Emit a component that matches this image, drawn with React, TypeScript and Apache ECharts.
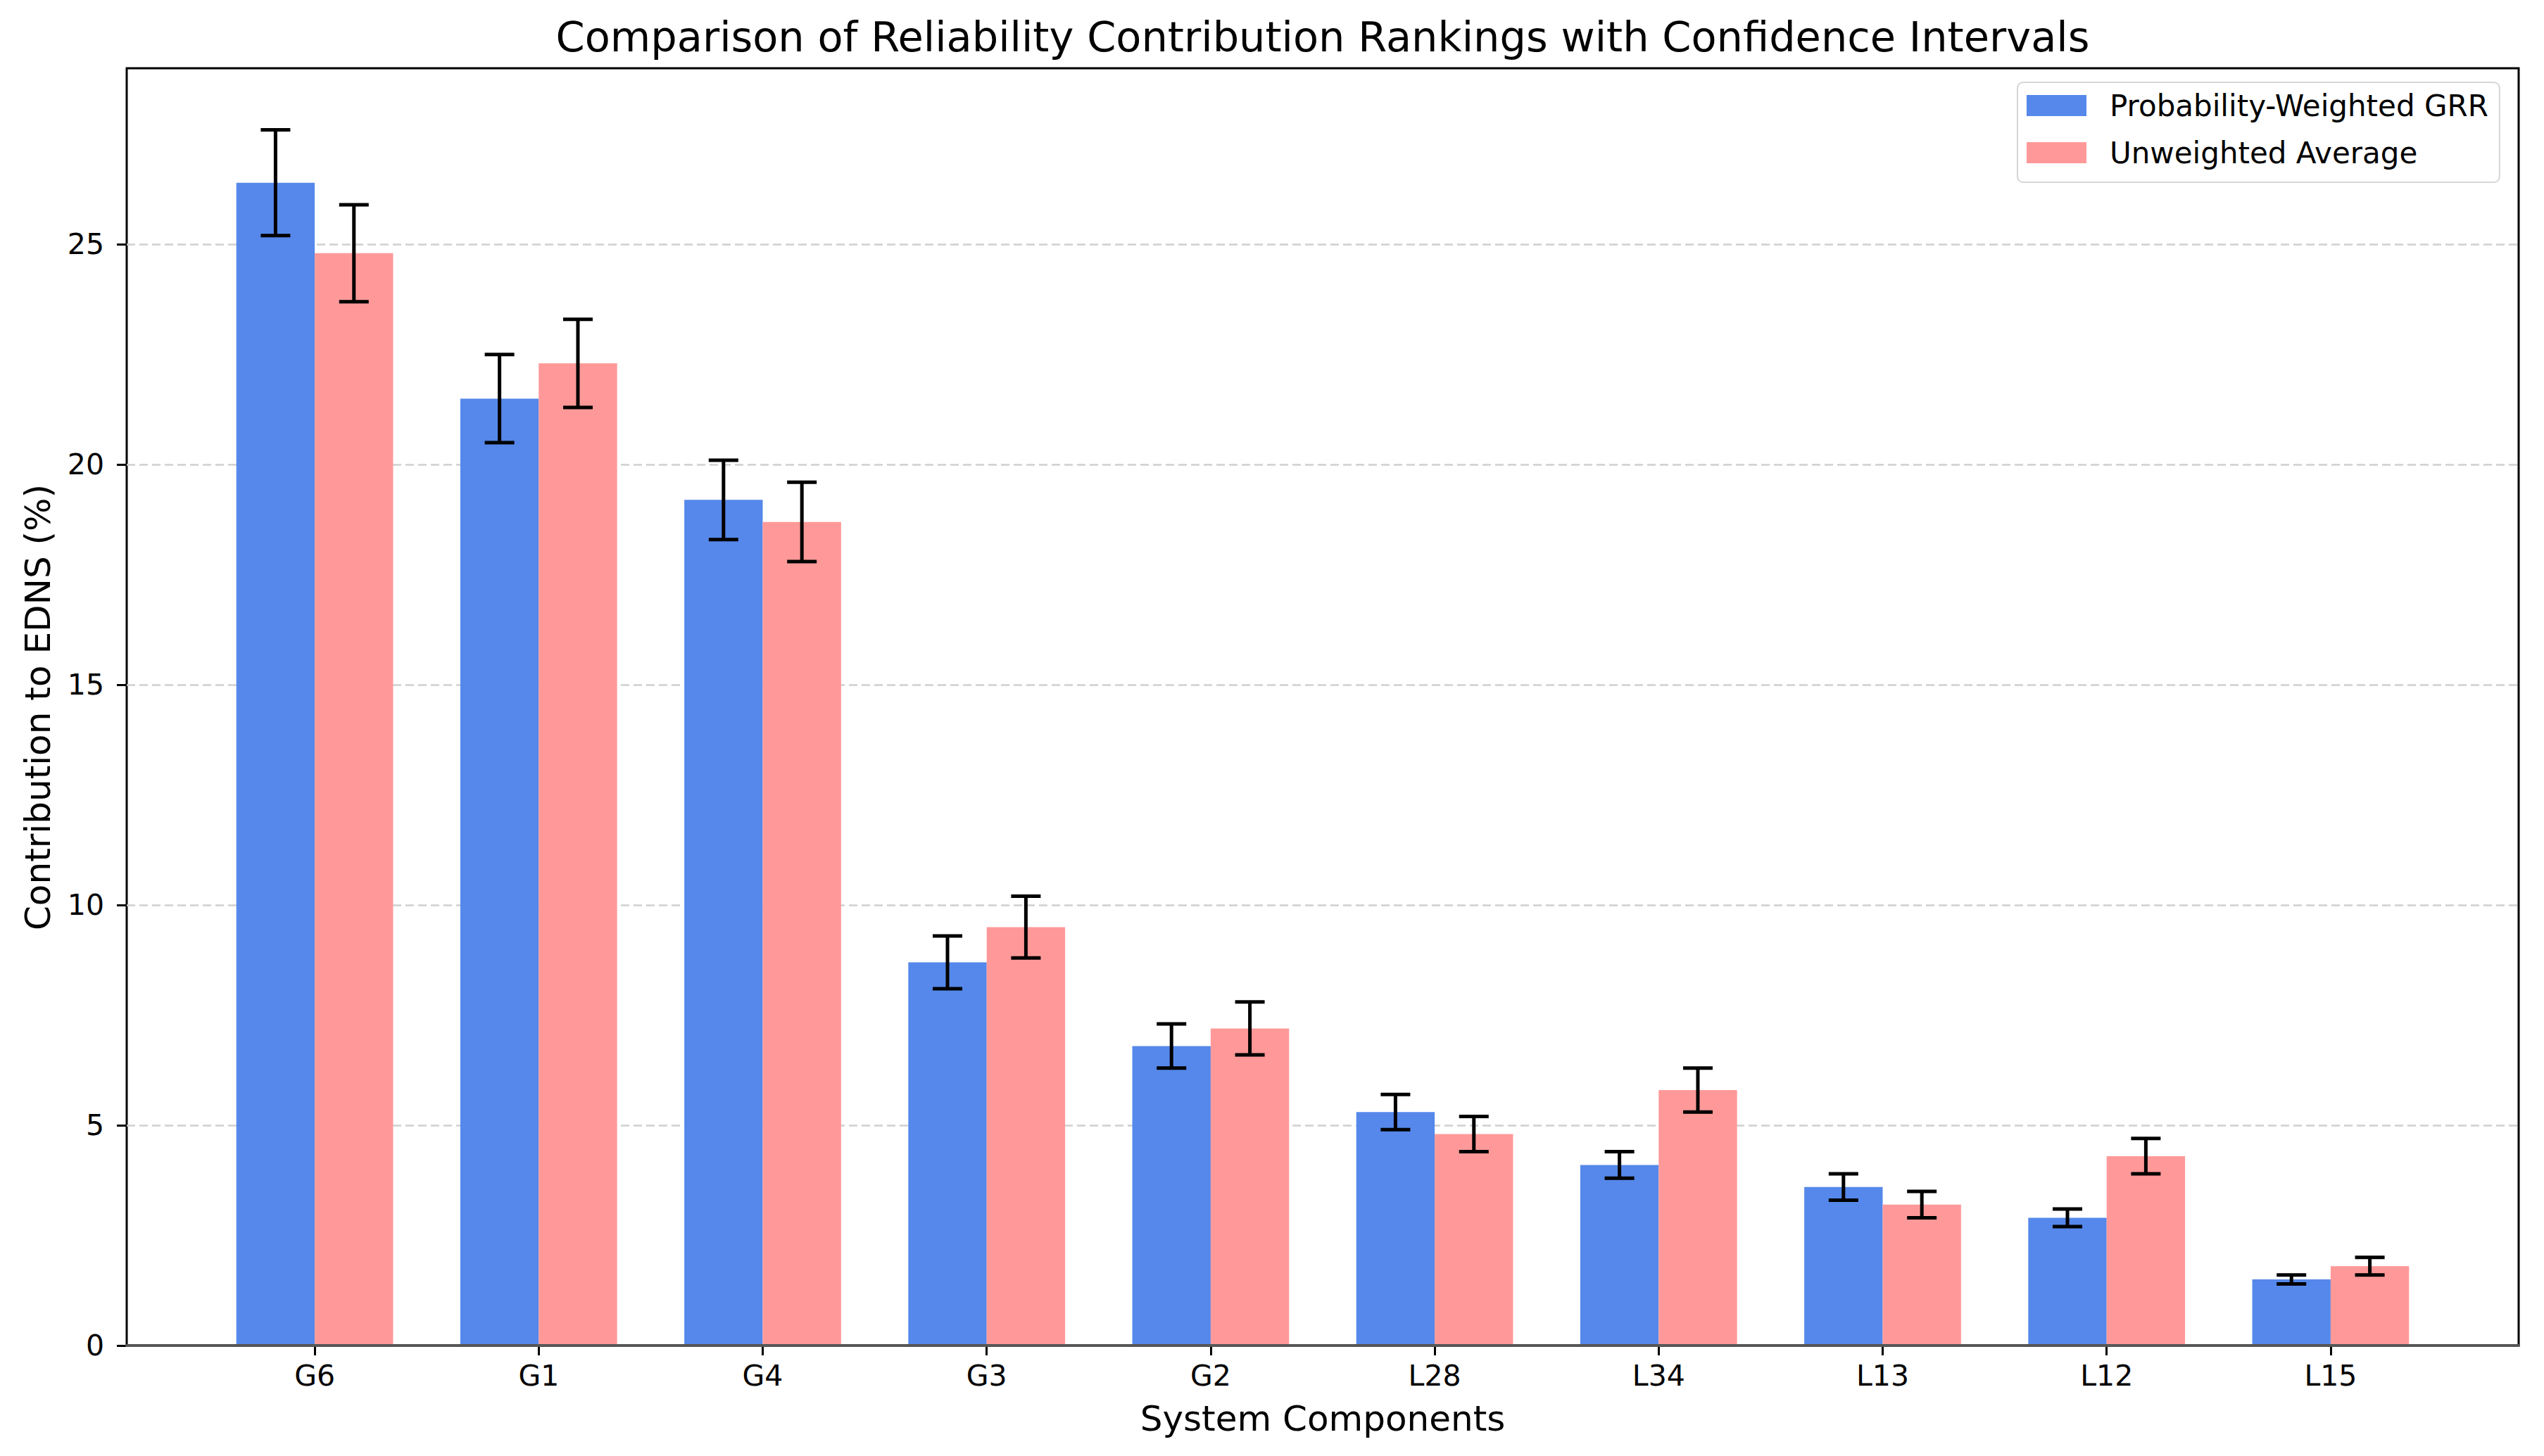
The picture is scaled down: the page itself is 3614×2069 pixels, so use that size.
import React, { useEffect, useRef } from "react";
import * as echarts from "echarts";

const categories = ["G6", "G1", "G4", "G3", "G2", "L28", "L34", "L13", "L12", "L15"];
const weighted = [26.4, 21.5, 19.2, 8.7, 6.8, 5.3, 4.1, 3.6, 2.9, 1.5];
const weightedErr = [1.2, 1.0, 0.9, 0.6, 0.5, 0.4, 0.3, 0.3, 0.2, 0.1];
const unweighted = [24.8, 22.3, 18.7, 9.5, 7.2, 4.8, 5.8, 3.2, 4.3, 1.8];
const unweightedErr = [1.1, 1.0, 0.9, 0.7, 0.6, 0.4, 0.5, 0.3, 0.4, 0.2];
const yTicks = [0, 5, 10, 15, 20, 25];
const seriesNames = ["Probability-Weighted GRR", "Unweighted Average"];

const FONT = "DejaVu Sans";
const BLUE = "#5588EA";
const PINK = "#FF9999";

export default function App() {
  const ref = useRef<HTMLDivElement>(null);
  useEffect(() => {
    const chart = echarts.init(ref.current!, null, { renderer: "svg" });
    const errData: number[][] = [];
    categories.forEach((_, i) => {
      errData.push([i, weighted[i] - weightedErr[i], weighted[i] + weightedErr[i], -1]);
      errData.push([i, unweighted[i] - unweightedErr[i], unweighted[i] + unweightedErr[i], 1]);
    });
    const option: any = {
      animation: false,
      backgroundColor: "#fff",
      grid: [
        { left: 180, right: 36, top: 97, bottom: 157, show: true, borderColor: "#000", borderWidth: 3, backgroundColor: "transparent" },
        { left: 288, right: 144, top: 97, bottom: 157 },
      ],
      xAxis: [
        {
          type: "value", gridIndex: 0, min: 0, max: 1, z: 10,
          axisLine: { show: true, lineStyle: { color: "#555", width: 4 } },
          axisTick: { show: false }, axisLabel: { show: false }, splitLine: { show: false },
        },
        {
          type: "category", gridIndex: 1, data: categories, boundaryGap: true,
          axisLine: { show: false },
          axisTick: { show: true, alignWithLabel: true, length: 14, lineStyle: { color: "#000", width: 3 } },
          axisLabel: { fontSize: 41, fontFamily: FONT, color: "#000", margin: 22 },
          splitLine: { show: false },
        },
      ],
      yAxis: [
        {
          type: "value", gridIndex: 0, min: 0, max: 29, interval: 5,
          axisLine: { show: false },
          axisTick: { show: true, length: 14, lineStyle: { color: "#000", width: 3 }, customValues: yTicks },
          axisLabel: { fontSize: 41, fontFamily: FONT, color: "#000", margin: 32, customValues: yTicks },
          splitLine: { show: true, lineStyle: { color: "#cfcfcf", width: 2.5, type: [12, 6] } },
        },
        { type: "value", gridIndex: 1, min: 0, max: 29, show: false },
      ],
      legend: {
        orient: "vertical", left: 2866, top: 117, padding: [12, 16, 21, 13],
        itemWidth: 85, itemHeight: 30, itemGap: 25,
        borderColor: "#d6d6d6", borderWidth: 2, borderRadius: 8,
        backgroundColor: "rgba(255,255,255,0.85)",
        textStyle: { fontSize: 42, fontFamily: FONT, color: "#000", padding: [0, 0, 0, 28] },
        data: seriesNames.map((n) => ({ name: n, icon: "rect" })),
      },
      graphic: [
        { type: "text", x: 1879, y: 52, style: { text: "Comparison of Reliability Contribution Rankings with Confidence Intervals", fontSize: 59, fontFamily: FONT, fill: "#000", textAlign: "center", textVerticalAlign: "middle" } },
        { type: "text", x: 1879, y: 2016, style: { text: "System Components", fontSize: 50, fontFamily: FONT, fill: "#000", textAlign: "center", textVerticalAlign: "middle" } },
        { type: "text", x: 54, y: 1005, rotation: Math.PI / 2, style: { text: "Contribution to EDNS (%)", fontSize: 50, fontFamily: FONT, fill: "#000", textAlign: "center", textVerticalAlign: "middle" } },
      ],
      series: [
        { name: seriesNames[0], type: "bar", xAxisIndex: 1, yAxisIndex: 1, data: weighted, barWidth: "35%", barGap: "0%", itemStyle: { color: BLUE } },
        { name: seriesNames[1], type: "bar", xAxisIndex: 1, yAxisIndex: 1, data: unweighted, barWidth: "35%", barGap: "0%", itemStyle: { color: PINK } },
        {
          type: "custom", xAxisIndex: 1, yAxisIndex: 1, z: 5, data: errData,
          encode: { x: 0, y: [1, 2] },
          renderItem: (params: any, api: any) => {
            const i = api.value(0);
            const lo = api.value(1);
            const hi = api.value(2);
            const side = api.value(3);
            const bw = api.size([1, 0])[0];
            const pLo = api.coord([i, lo]);
            const pHi = api.coord([i, hi]);
            const x = pLo[0] + side * bw * 0.175;
            const h = 21;
            const style = { stroke: "#000", lineWidth: 5 };
            return {
              type: "group",
              children: [
                { type: "line", shape: { x1: x, y1: pLo[1], x2: x, y2: pHi[1] }, style },
                { type: "line", shape: { x1: x - h, y1: pHi[1], x2: x + h, y2: pHi[1] }, style },
                { type: "line", shape: { x1: x - h, y1: pLo[1], x2: x + h, y2: pLo[1] }, style },
              ],
            };
          },
        },
      ],
    };
    chart.setOption(option);
    return () => chart.dispose();
  }, []);
  return <div ref={ref} style={{ position: "fixed", left: 0, top: 0, width: 3614, height: 2069 }} />;
}
